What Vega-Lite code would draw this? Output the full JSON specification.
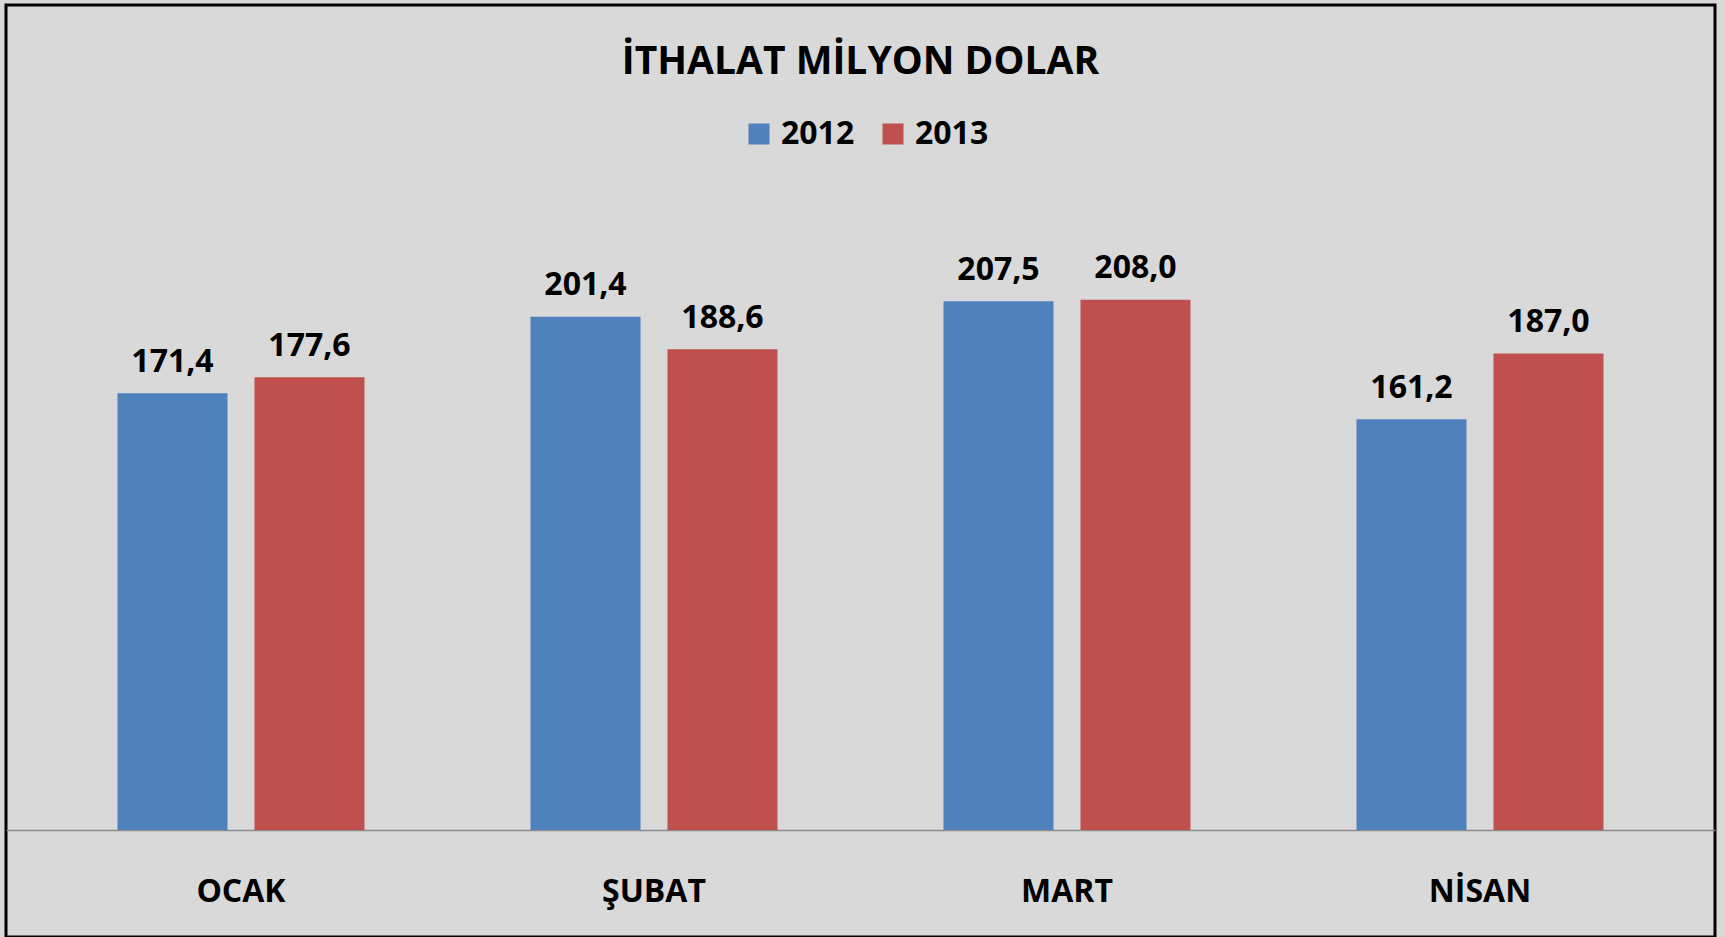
{
  "$schema": "https://vega.github.io/schema/vega-lite/v6.json",
  "width": 1709,
  "height": 932,
  "autosize": "none",
  "padding": {"left": 6, "top": 5, "right": 10, "bottom": 0},
  "background": "#D9D9D9",
  "config": {
    "view": {"stroke": "#000000", "strokeWidth": 3, "fill": "#D9D9D9"},
    "font": "Open Sans"
  },
  "title": {
    "text": "İTHALAT MİLYON DOLAR",
    "font": "Open Sans",
    "fontSize": 39,
    "fontWeight": "bold",
    "color": "#000000",
    "anchor": "middle",
    "frame": "group",
    "offset": -108,
    "baseline": "alphabetic"
  },
  "data": {
    "values": [
      {"month": "OCAK", "year": "2012", "value": 171.4, "label": "171,4"},
      {"month": "OCAK", "year": "2013", "value": 177.6, "label": "177,6"},
      {"month": "ŞUBAT", "year": "2012", "value": 201.4, "label": "201,4"},
      {"month": "ŞUBAT", "year": "2013", "value": 188.6, "label": "188,6"},
      {"month": "MART", "year": "2012", "value": 207.5, "label": "207,5"},
      {"month": "MART", "year": "2013", "value": 208.0, "label": "208,0"},
      {"month": "NİSAN", "year": "2012", "value": 161.2, "label": "161,2"},
      {"month": "NİSAN", "year": "2013", "value": 187.0, "label": "187,0"}
    ]
  },
  "layer": [
    {
      "mark": {"type": "bar"},
      "encoding": {
        "x": {
          "field": "month",
          "type": "nominal",
          "sort": ["OCAK", "ŞUBAT", "MART", "NİSAN"],
          "scale": {"paddingInner": 0, "paddingOuter": 0.069},
          "axis": {
            "title": null,
            "domain": true,
            "domainColor": "#8C8C8C",
            "domainWidth": 1.5,
            "ticks": false,
            "tickSize": 0,
            "grid": false,
            "labelAngle": 0,
            "labelFont": "Open Sans",
            "labelFontSize": 32,
            "labelFontWeight": "bold",
            "labelColor": "#000000",
            "labelPadding": 71,
            "labelBaseline": "alphabetic",
            "offset": -107
          }
        },
        "xOffset": {
          "field": "year",
          "type": "nominal",
          "scale": {"paddingInner": 0.197, "paddingOuter": 0.606}
        },
        "y": {
          "field": "value",
          "type": "quantitative",
          "scale": {"domain": [-42, 323.7], "nice": false, "zero": false},
          "axis": null
        },
        "y2": {"datum": 0},
        "color": {
          "field": "year",
          "type": "nominal",
          "scale": {"domain": ["2012", "2013"], "range": ["#4F81BD", "#C0504D"]},
          "legend": {
            "title": null,
            "orient": "none",
            "legendX": 737,
            "legendY": 113,
            "direction": "horizontal",
            "symbolType": "square",
            "symbolSize": 441,
            "symbolStrokeWidth": 0,
            "labelFont": "Open Sans",
            "labelFontSize": 32,
            "labelFontWeight": "bold",
            "labelColor": "#000000",
            "labelOffset": 6,
            "columnPadding": 22,
            "padding": 0
          }
        }
      }
    },
    {
      "mark": {
        "type": "text",
        "dy": -21.5,
        "baseline": "alphabetic",
        "align": "center",
        "font": "Open Sans",
        "fontSize": 32,
        "fontWeight": "bold",
        "color": "#000000"
      },
      "encoding": {
        "x": {
          "field": "month",
          "type": "nominal",
          "sort": ["OCAK", "ŞUBAT", "MART", "NİSAN"]
        },
        "xOffset": {
          "field": "year",
          "type": "nominal"
        },
        "y": {"field": "value", "type": "quantitative"},
        "text": {"field": "label", "type": "nominal"}
      }
    }
  ]
}
